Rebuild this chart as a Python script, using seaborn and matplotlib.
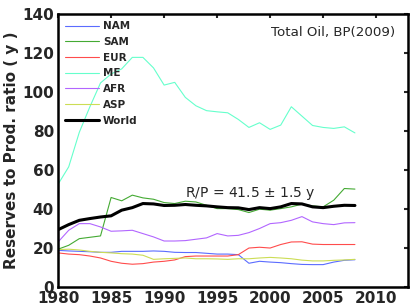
import matplotlib
matplotlib.use("Agg")
import matplotlib.pyplot as plt
import seaborn as sns
import pandas as pd

years = list(range(1980, 2009))

nam = [18.8, 18.5, 18.3, 18.1, 17.8, 17.8, 18.3, 18.3, 18.3, 18.5, 18.3, 17.8,
       17.7, 17.7, 17.3, 16.9, 16.9, 16.6, 12.2, 13.2, 12.8, 12.5, 12.0, 11.6,
       11.5, 11.5, 12.8, 13.7, 14.0]
sam = [19.4, 21.4, 24.8, 25.5, 26.2, 45.9, 44.2, 47.1, 45.7, 45.0, 43.3, 42.8,
       44.0, 43.6, 41.9, 40.2, 40.2, 39.7, 38.2, 39.9, 39.4, 40.2, 41.1, 42.5,
       41.6, 41.1, 44.5, 50.5, 50.2]
eur = [17.5, 16.9, 16.6, 15.9, 14.9, 13.2, 12.2, 11.7, 12.0, 12.8, 13.2, 13.9,
       15.6, 15.9, 15.9, 15.9, 15.9, 16.6, 20.0, 20.4, 20.0, 21.8, 23.1, 23.2,
       22.0, 21.8, 21.8, 21.8, 21.8]
me = [52.7, 61.6, 79.3, 92.4, 104.6, 109.2, 111.8, 117.7, 117.7, 112.3, 103.5, 104.9,
      97.2, 92.9, 90.4, 89.8, 89.3, 85.9, 81.8, 84.2, 80.8, 83.0, 92.4, 87.6,
      82.8, 81.8, 81.3, 82.1, 79.0]
afr = [23.1, 29.1, 32.5, 32.5, 30.8, 28.6, 28.8, 29.1, 27.4, 25.7, 23.6, 23.6,
       23.8, 24.5, 25.2, 27.4, 26.2, 26.5, 27.9, 30.0, 32.5, 33.0, 34.2, 36.1,
       33.4, 32.5, 32.0, 32.9, 33.0]
asp = [19.2, 19.4, 19.0, 18.3, 17.8, 17.5, 17.1, 16.9, 16.3, 14.2, 14.5, 14.7,
       14.9, 14.5, 14.5, 14.4, 14.2, 14.5, 14.5, 14.9, 15.2, 14.9, 14.5, 13.8,
       13.4, 13.4, 13.7, 13.9, 14.2]
world = [29.4, 32.0, 34.2, 35.1, 35.9, 36.5, 39.4, 40.7, 42.8, 42.6, 41.8, 41.9,
         42.3, 41.9, 41.6, 41.1, 40.7, 40.6, 39.7, 40.7, 40.2, 41.1, 42.8, 42.6,
         41.1, 40.7, 41.4, 41.9, 41.8]

regions = ["NAM", "SAM", "EUR", "ME", "AFR", "ASP", "World"]
colors = ["#5b6cff", "#44aa33", "#ff4c4c", "#66ffcc", "#b266ff", "#ccdd55", "black"]

df = pd.DataFrame({"year": years, "NAM": nam, "SAM": sam, "EUR": eur, "ME": me,
                   "AFR": afr, "ASP": asp, "World": world})
long = df.melt(id_vars="year", var_name="region", value_name="rp")

sns.set_style("white")
plt.rcParams['font.family'] = ['DejaVu Sans']

fig = plt.figure(figsize=(4.15, 3.08), dpi=100)
ax = fig.add_axes([0.140, 0.068, 0.843, 0.887])

for reg, col in zip(regions, colors):
    sub = long[long["region"] == reg]
    lw = 2.2 if reg == "World" else 0.8
    sns.lineplot(data=sub, x="year", y="rp", color=col, linewidth=lw, label=reg, ax=ax)

ax.set_xlim(1980, 2013)
ax.set_ylim(0, 140)
ax.set_xticks(range(1980, 2011, 5))
ax.set_yticks(range(0, 141, 20))
ax.set_xlabel("")
ax.set_ylabel("Reserves to Prod. ratio ( y )", fontsize=11, fontweight="bold", labelpad=2)
ax.tick_params(direction="in", length=3, width=1.5, top=True, right=True,
               labelsize=11, pad=3)
for lab in ax.get_xticklabels() + ax.get_yticklabels():
    lab.set_fontweight("bold")
for sp in ax.spines.values():
    sp.set_linewidth(1.8)
    sp.set_color("black")

ax.text(0.963, 0.955, "Total Oil, BP(2009)", transform=ax.transAxes, ha="right",
        va="top", fontsize=9.6)
ax.text(1992.0, 48, "R/P = 41.5 $\\pm$ 1.5 y", fontsize=10, va="center", ha="left")

leg = ax.legend(loc="upper left", frameon=False, handlelength=3.2,
                handletextpad=0.4, labelspacing=0.55, borderaxespad=0.3,
                prop={"weight": "bold", "size": 7.5})

fig.savefig("out.png", dpi=100)
